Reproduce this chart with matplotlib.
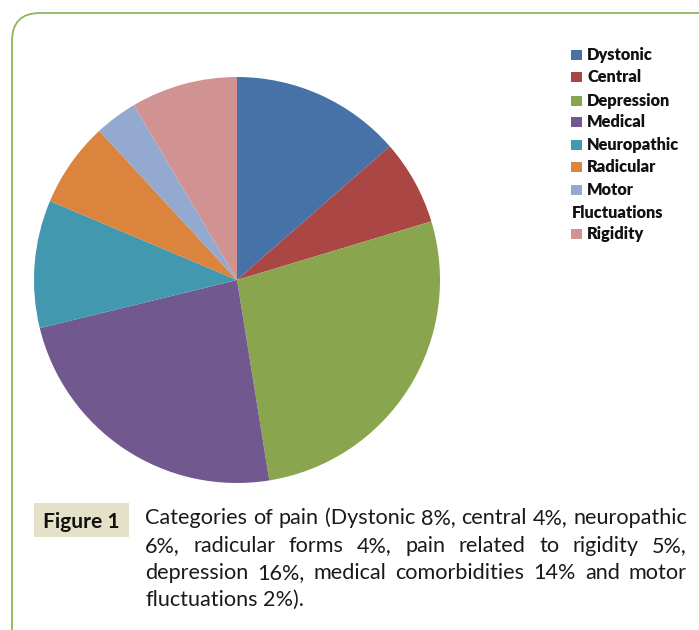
import matplotlib
matplotlib.use('Agg')
import matplotlib.pyplot as plt
from matplotlib.patches import FancyBboxPatch, Rectangle
from matplotlib.transforms import IdentityTransform

# data
labels = ['Dystonic', 'Central', 'Depression', 'Medical', 'Neuropathic',
          'Radicular', 'Motor Fluctuations', 'Rigidity']
values = [8, 4, 16, 14, 6, 4, 2, 5]
colors = ['#4672A8', '#AA4643', '#89A54E', '#71588F', '#4198AF',
          '#DB843D', '#93A9CF', '#D09391']
legend_lines = [['Dystonic'], ['Central'], ['Depression'], ['Medical'],
                ['Neuropathic'], ['Radicular'], ['Motor', 'Fluctuations'],
                ['Rigidity']]
caption_lines = [
    'Categories of pain (Dystonic 8%, central 4%, neuropathic',
    '6%, radicular forms 4%, pain related to rigidity 5%,',
    'depression 16%, medical comorbidities 14% and motor',
    'fluctuations 2%).',
]

W, H = 699, 630
fig = plt.figure(figsize=(W / 100, H / 100), dpi=100)
px = IdentityTransform()
renderer = fig.canvas.get_renderer()


def Y(y):
    # picture y (from top) -> display y (from bottom)
    return H - y


def text_w(s, **kw):
    t = fig.text(0, 0, s, transform=px, **kw)
    w = t.get_window_extent(renderer).width
    t.remove()
    return w


# green rounded frame
frame = FancyBboxPatch((12, Y(655)), 730, 642,
                       boxstyle='round,pad=0,rounding_size=28',
                       transform=px, fill=False, edgecolor='#8DB65E',
                       linewidth=1.3)
fig.patches.append(frame)

# pie: centre (237,280), radius 203 px
cx, cy, r = 237, 280, 203
ax = fig.add_axes([(cx - r) / W, Y(cy + r) / H, 2 * r / W, 2 * r / H])
ax.pie(values, colors=colors, startangle=90, counterclock=False,
       radius=1, wedgeprops=dict(linewidth=0))
ax.set_xlim(-1, 1)
ax.set_ylim(-1, 1)
ax.set_aspect('equal')
ax.axis('off')

# legend
lfont = 'Lato'
lsize = 10 * 93 / text_w('Neuropathic', fontsize=10, family=lfont, weight='heavy')
row_y = [55, 77, 101, 122, 145, 167, 190, 234]
for lines, col, yy in zip(legend_lines, colors, row_y):
    fig.patches.append(Rectangle((571, Y(yy) - 5), 11, 10, transform=px,
                                 facecolor=col, edgecolor='none'))
    fig.text(587, Y(yy), lines[0], transform=px, fontsize=lsize,
             family=lfont, weight='heavy', va='center', color='#111111')
    if len(lines) > 1:
        fig.text(572, Y(yy + 23), lines[1], transform=px, fontsize=lsize,
                 family=lfont, weight='heavy', va='center', color='#111111')

# caption label box
fig.patches.append(Rectangle((34, Y(537)), 95, 34, transform=px,
                             facecolor='#E4E1C8', edgecolor='none'))
fsize = 12 * 76 / text_w('Figure 1', fontsize=12, family=lfont, weight='bold')
fig.text(81, Y(528), 'Figure 1', transform=px, fontsize=fsize,
         family=lfont, weight='bold', ha='center', va='baseline',
         color='#111111')

# caption, justified between x0 and x1
cfont = 'Lato'
x0, x1 = 145, 687
csize = 14 * (x1 - x0) / text_w(caption_lines[0], fontsize=14, family=cfont)
base_y = [524, 552, 579, 606]
space = text_w('a b', fontsize=csize, family=cfont) - text_w('ab', fontsize=csize, family=cfont)
for i, (line, yy) in enumerate(zip(caption_lines, base_y)):
    words = line.split(' ')
    widths = [text_w(w, fontsize=csize, family=cfont) for w in words]
    if i < len(caption_lines) - 1 and len(words) > 1:
        gap = (x1 - x0 - sum(widths)) / (len(words) - 1)
    else:
        gap = space
    x = x0
    for w, wd in zip(words, widths):
        fig.text(x, Y(yy), w, transform=px, fontsize=csize, family=cfont,
                 va='baseline', color='#1a1a1a')
        x += wd + gap

fig.savefig('out.png', dpi=100)
